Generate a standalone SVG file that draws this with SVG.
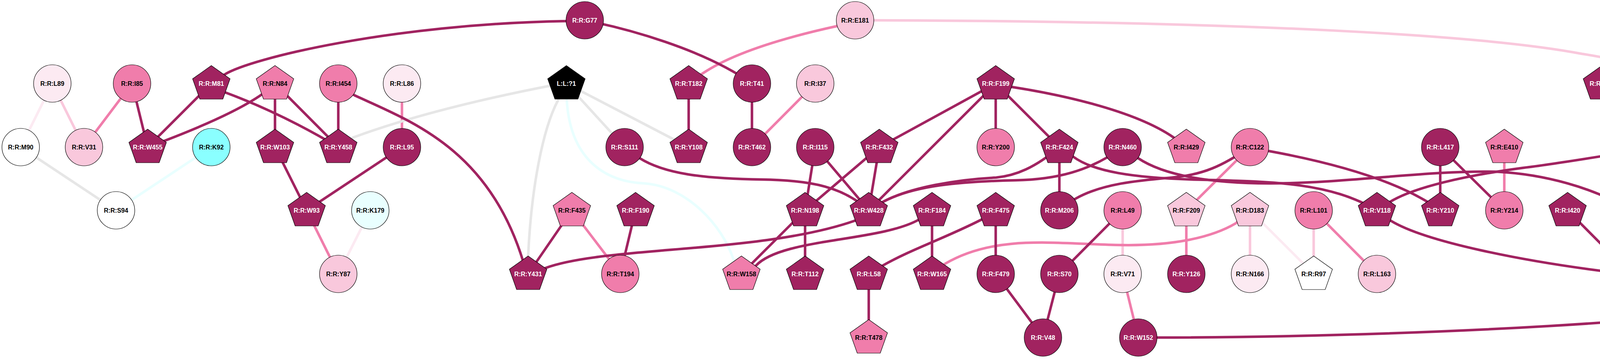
<svg xmlns="http://www.w3.org/2000/svg" width="4853" height="920" viewBox="0 0 4853 920">
<style>
.d{fill:#A12360}.m{fill:#F07DAB}.l{fill:#F9C8DC}.v{fill:#FCEAF2}.w{fill:#FFFFFF}.c{fill:#8AFFFF}.lc{fill:#E9FFFF}.k{fill:#000000}
ellipse,use{stroke:#000;stroke-width:1.2}
text{font-family:"Liberation Sans",Arial,sans-serif;font-weight:bold;font-size:16px;text-anchor:middle}
.tw{fill:#FFFFFF}.tb{fill:#000000}
#edges path,#edges line{fill:none;stroke-width:6.5}
.ed{stroke:#A12360}.em{stroke:#F07DAB}.el{stroke:#F9C8DC}.ev{stroke:#FCEAF2}.eg{stroke:#E6E6E6}.ec{stroke:#E9FFFF}
</style>
<defs>
<polygon id="pent" points="0,-46 48,-12 29.5,40 -29.5,40 -48,-12"/>
</defs>
<rect width="4853" height="920" fill="#FFFFFF"/>
<g id="edges">
<line class="ev" x1="134" y1="214" x2="53" y2="377"/>
<line class="el" x1="134" y1="214" x2="215" y2="377"/>
<line class="em" x1="338" y1="214" x2="215" y2="377"/>
<line class="eg" x1="53" y1="377" x2="297" y2="539"/>
<line class="ec" x1="541" y1="377" x2="297" y2="539"/>
<line class="em" x1="785" y1="539" x2="866" y2="702"/>
<line class="ev" x1="948" y1="539" x2="866" y2="702"/>
<line class="em" x1="1029" y1="214" x2="1029" y2="377"/>
<line class="em" x1="1464" y1="539" x2="1588" y2="702"/>
<line class="em" x1="2087" y1="214" x2="1925" y2="377"/>
<line class="em" x1="3200" y1="377" x2="3037" y2="539"/>
<line class="em" x1="2874" y1="702" x2="2914" y2="865"/>
<line class="em" x1="3037" y1="539" x2="3037" y2="702"/>
<line class="em" x1="3363" y1="539" x2="3525" y2="702"/>
<line class="em" x1="3851" y1="377" x2="3851" y2="539"/>
<line class="el" x1="2874" y1="539" x2="2874" y2="702"/>
<line class="el" x1="3200" y1="539" x2="3200" y2="702"/>
<line class="el" x1="3363" y1="539" x2="3363" y2="702"/>
<line class="ev" x1="3200" y1="539" x2="3363" y2="702"/>
<path class="el" d="M2237,52 C3200,55 3800,90 4050,138 C4150,153 4200,170 4263,214"/>
<path class="em" d="M1763,214 L1799,188 Q1900,120 2142,67 L2189,52"/>
<path class="em" d="M2386,702 L2421,675 C2550,600 2700,625 2871,628 C3000,630 3100,610 3164,572 L3200,539"/>
<line class="eg" x1="1450" y1="214" x2="1599" y2="377"/>
<line class="eg" x1="1450" y1="214" x2="1763" y2="377"/>
<path class="eg" d="M1450,214 L1407,220 Q1100,280 905,352 L866,377"/>
<path class="eg" d="M1450,214 L1428,258 C1390,330 1360,480 1352,657 L1352,702"/>
<path class="ec" d="M1450,214 L1451,258 C1460,400 1540,465 1650,470 C1760,478 1850,580 1877,663 L1898,702"/>
<line class="ed" x1="338" y1="214" x2="378" y2="377"/>
<line class="ed" x1="541" y1="214" x2="378" y2="377"/>
<line class="ed" x1="704" y1="214" x2="866" y2="377"/>
<line class="ed" x1="704" y1="214" x2="704" y2="377"/>
<path class="ed" d="M541,214 L577,237 Q720,290 866,377"/>
<line class="ed" x1="704" y1="377" x2="785" y2="539"/>
<line class="ed" x1="1029" y1="377" x2="785" y2="539"/>
<line class="ed" x1="866" y1="214" x2="866" y2="377"/>
<line class="ed" x1="1464" y1="539" x2="1352" y2="702"/>
<line class="ed" x1="1627" y1="539" x2="1588" y2="702"/>
<line class="ed" x1="1763" y1="214" x2="1763" y2="377"/>
<line class="ed" x1="1925" y1="214" x2="1925" y2="377"/>
<line class="ed" x1="2087" y1="377" x2="2061" y2="539"/>
<line class="ed" x1="2087" y1="377" x2="2224" y2="539"/>
<line class="ed" x1="2251" y1="377" x2="2061" y2="539"/>
<line class="ed" x1="2251" y1="377" x2="2224" y2="539"/>
<line class="ed" x1="2251" y1="377" x2="2549" y2="214"/>
<line class="ed" x1="2549" y1="214" x2="2224" y2="539"/>
<line class="ed" x1="2549" y1="214" x2="2549" y2="377"/>
<line class="ed" x1="2549" y1="214" x2="2712" y2="377"/>
<line class="ed" x1="2061" y1="539" x2="1898" y2="702"/>
<line class="ed" x1="2061" y1="539" x2="2061" y2="702"/>
<line class="ed" x1="2386" y1="539" x2="2386" y2="702"/>
<line class="ed" x1="2224" y1="702" x2="2224" y2="865"/>
<line class="ed" x1="2712" y1="377" x2="2712" y2="539"/>
<line class="ed" x1="2549" y1="539" x2="2549" y2="702"/>
<line class="ed" x1="2549" y1="702" x2="2670" y2="865"/>
<line class="ed" x1="2712" y1="702" x2="2670" y2="865"/>
<line class="ed" x1="2874" y1="539" x2="2712" y2="702"/>
<line class="ed" x1="3687" y1="377" x2="3687" y2="539"/>
<line class="ed" x1="3687" y1="377" x2="3851" y2="539"/>
<line class="ed" x1="4013" y1="539" x2="4175" y2="702"/>
<line class="ed" x1="4101" y1="214" x2="4250" y2="377"/>
<line class="ed" x1="4101" y1="214" x2="4175" y2="539"/>
<line class="ed" x1="4425" y1="214" x2="4418" y2="377"/>
<line class="ed" x1="4250" y1="377" x2="4175" y2="539"/>
<line class="ed" x1="4175" y1="539" x2="4175" y2="702"/>
<line class="ed" x1="4472" y1="539" x2="4175" y2="702"/>
<line class="ed" x1="4472" y1="539" x2="4472" y2="702"/>
<line class="ed" x1="4635" y1="539" x2="4472" y2="702"/>
<line class="ed" x1="4635" y1="539" x2="4635" y2="702"/>
<line class="ed" x1="4797" y1="539" x2="4797" y2="702"/>
<path class="ed" d="M704,214 Q641,280 378,377"/>
<path class="ed" d="M541,214 L575,191 C640,150 1000,62 1450,54 L1497,52"/>
<path class="ed" d="M1497,52 C1600,72 1800,125 1925,214"/>
<path class="ed" d="M866,214 L907,244 C1050,310 1250,380 1339,669 L1352,702"/>
<path class="ed" d="M1352,702 L1396,687 C1550,630 1950,650 2190,565 L2224,539"/>
<path class="ed" d="M1599,377 L1637,405 C1700,445 1800,458 1950,460 C2080,462 2160,480 2224,539"/>
<path class="ed" d="M2386,539 L2352,563 C2250,620 2000,610 1935,681 L1898,702"/>
<path class="ed" d="M2224,702 L2259,681 C2330,640 2420,610 2512,563 L2549,539"/>
<path class="ed" d="M2224,539 L2261,517 C2330,480 2450,460 2550,455 C2600,450 2650,430 2712,377"/>
<path class="ed" d="M2224,539 L2261,517 C2340,475 2460,465 2600,462 C2700,460 2790,440 2874,377"/>
<path class="ed" d="M2712,377 L2748,402 C2800,440 2900,455 3050,460 C3250,465 3400,465 3525,539"/>
<path class="ed" d="M2874,377 L2913,405 C2980,450 3100,470 3250,470 C3450,470 3650,436 3830,440 C3950,446 4080,480 4175,539"/>
<path class="ed" d="M3525,539 L3559,517 C3620,480 3750,450 3900,430 C4000,418 4120,396 4250,377"/>
<path class="ed" d="M2712,539 L2752,510 C2820,470 2920,462 3000,455 C3080,448 3130,425 3200,377"/>
<path class="ed" d="M3200,377 L3248,387 C3400,415 3580,460 3687,539"/>
<path class="ed" d="M2549,214 L2591,223 C2700,240 2900,280 3004,352 L3037,377"/>
<path class="ed" d="M2914,865 L2962,865 C3500,865 4500,830 4760,734 L4797,702"/>
<path class="ed" d="M3525,539 L3561,566 C3650,620 3900,670 4130,698 L4175,702"/>
<path class="ed" d="M4101,214 L4138,238 Q4273,300 4379,352 L4418,377"/>
<path class="ed" d="M4250,377 L4258,417 C4285,500 4275,600 4203,672 L4175,702"/>
<path class="ed" d="M4250,377 L4287,402 C4380,450 4500,455 4600,462 C4680,468 4730,485 4797,539"/>
</g>
<g id="n-L89"><ellipse cx="134" cy="214" rx="48" ry="48" class="v"/><text x="134" y="220" class="tb">R:R:L89</text></g>
<g id="n-I85"><ellipse cx="338" cy="214" rx="48" ry="48" class="m"/><text x="338" y="220" class="tb">R:R:I85</text></g>
<g id="n-M81"><use href="#pent" x="541" y="214" class="d"/><text x="541" y="220" class="tw">R:R:M81</text></g>
<g id="n-N84"><use href="#pent" x="704" y="214" class="m"/><text x="704" y="220" class="tb">R:R:N84</text></g>
<g id="n-M90"><ellipse cx="53" cy="377" rx="48" ry="48" class="w"/><text x="53" y="383" class="tb">R:R:M90</text></g>
<g id="n-V31"><ellipse cx="215" cy="377" rx="48" ry="48" class="l"/><text x="215" y="383" class="tb">R:R:V31</text></g>
<g id="n-W455"><use href="#pent" x="378" y="377" class="d"/><text x="378" y="383" class="tw">R:R:W455</text></g>
<g id="n-K92"><ellipse cx="541" cy="377" rx="48" ry="48" class="c"/><text x="541" y="383" class="tb">R:R:K92</text></g>
<g id="n-W103"><use href="#pent" x="704" y="377" class="d"/><text x="704" y="383" class="tw">R:R:W103</text></g>
<g id="n-S94"><ellipse cx="297" cy="539" rx="48" ry="48" class="w"/><text x="297" y="545" class="tb">R:R:S94</text></g>
<g id="n-W93"><use href="#pent" x="785" y="539" class="d"/><text x="785" y="545" class="tw">R:R:W93</text></g>
<g id="n-G77"><ellipse cx="1497" cy="52" rx="48" ry="48" class="d"/><text x="1497" y="58" class="tw">R:R:G77</text></g>
<g id="n-I454"><ellipse cx="866" cy="214" rx="48" ry="48" class="m"/><text x="866" y="220" class="tb">R:R:I454</text></g>
<g id="n-L86"><ellipse cx="1029" cy="214" rx="48" ry="48" class="v"/><text x="1029" y="220" class="tb">R:R:L86</text></g>
<g id="n-L1"><use href="#pent" x="1450" y="214" class="k"/><text x="1450" y="220" class="tw">L:L:?1</text></g>
<g id="n-Y458"><use href="#pent" x="866" y="377" class="d"/><text x="866" y="383" class="tw">R:R:Y458</text></g>
<g id="n-L95"><ellipse cx="1029" cy="377" rx="48" ry="48" class="d"/><text x="1029" y="383" class="tw">R:R:L95</text></g>
<g id="n-S111"><ellipse cx="1599" cy="377" rx="48" ry="48" class="d"/><text x="1599" y="383" class="tw">R:R:S111</text></g>
<g id="n-K179"><ellipse cx="948" cy="539" rx="48" ry="48" class="lc"/><text x="948" y="545" class="tb">R:R:K179</text></g>
<g id="n-F435"><use href="#pent" x="1464" y="539" class="m"/><text x="1464" y="545" class="tb">R:R:F435</text></g>
<g id="n-F190"><use href="#pent" x="1627" y="539" class="d"/><text x="1627" y="545" class="tw">R:R:F190</text></g>
<g id="n-Y87"><ellipse cx="866" cy="702" rx="48" ry="48" class="l"/><text x="866" y="708" class="tb">R:R:Y87</text></g>
<g id="n-Y431"><use href="#pent" x="1352" y="702" class="d"/><text x="1352" y="708" class="tw">R:R:Y431</text></g>
<g id="n-T194"><ellipse cx="1588" cy="702" rx="48" ry="48" class="m"/><text x="1588" y="708" class="tb">R:R:T194</text></g>
<g id="n-E181"><ellipse cx="2189" cy="52" rx="48" ry="48" class="l"/><text x="2189" y="58" class="tb">R:R:E181</text></g>
<g id="n-T182"><use href="#pent" x="1763" y="214" class="d"/><text x="1763" y="220" class="tw">R:R:T182</text></g>
<g id="n-T41"><ellipse cx="1925" cy="214" rx="48" ry="48" class="d"/><text x="1925" y="220" class="tw">R:R:T41</text></g>
<g id="n-I37"><ellipse cx="2087" cy="214" rx="48" ry="48" class="l"/><text x="2087" y="220" class="tb">R:R:I37</text></g>
<g id="n-Y108"><use href="#pent" x="1763" y="377" class="d"/><text x="1763" y="383" class="tw">R:R:Y108</text></g>
<g id="n-T462"><ellipse cx="1925" cy="377" rx="48" ry="48" class="d"/><text x="1925" y="383" class="tw">R:R:T462</text></g>
<g id="n-I115"><ellipse cx="2087" cy="377" rx="48" ry="48" class="d"/><text x="2087" y="383" class="tw">R:R:I115</text></g>
<g id="n-F432"><use href="#pent" x="2251" y="377" class="d"/><text x="2251" y="383" class="tw">R:R:F432</text></g>
<g id="n-N198"><use href="#pent" x="2061" y="539" class="d"/><text x="2061" y="545" class="tw">R:R:N198</text></g>
<g id="n-W428"><use href="#pent" x="2224" y="539" class="d"/><text x="2224" y="545" class="tw">R:R:W428</text></g>
<g id="n-F184"><use href="#pent" x="2386" y="539" class="d"/><text x="2386" y="545" class="tw">R:R:F184</text></g>
<g id="n-W158"><use href="#pent" x="1898" y="702" class="m"/><text x="1898" y="708" class="tb">R:R:W158</text></g>
<g id="n-T112"><use href="#pent" x="2061" y="702" class="d"/><text x="2061" y="708" class="tw">R:R:T112</text></g>
<g id="n-L58"><use href="#pent" x="2224" y="702" class="d"/><text x="2224" y="708" class="tw">R:R:L58</text></g>
<g id="n-W165"><use href="#pent" x="2386" y="702" class="d"/><text x="2386" y="708" class="tw">R:R:W165</text></g>
<g id="n-T478"><use href="#pent" x="2224" y="865" class="m"/><text x="2224" y="871" class="tb">R:R:T478</text></g>
<g id="n-F199"><use href="#pent" x="2549" y="214" class="d"/><text x="2549" y="220" class="tw">R:R:F199</text></g>
<g id="n-Y200"><ellipse cx="2549" cy="377" rx="48" ry="48" class="m"/><text x="2549" y="383" class="tb">R:R:Y200</text></g>
<g id="n-F424"><use href="#pent" x="2712" y="377" class="d"/><text x="2712" y="383" class="tw">R:R:F424</text></g>
<g id="n-N460"><ellipse cx="2874" cy="377" rx="48" ry="48" class="d"/><text x="2874" y="383" class="tw">R:R:N460</text></g>
<g id="n-I429"><use href="#pent" x="3037" y="377" class="m"/><text x="3037" y="383" class="tb">R:R:I429</text></g>
<g id="n-C122"><ellipse cx="3200" cy="377" rx="48" ry="48" class="m"/><text x="3200" y="383" class="tb">R:R:C122</text></g>
<g id="n-F475"><use href="#pent" x="2549" y="539" class="d"/><text x="2549" y="545" class="tw">R:R:F475</text></g>
<g id="n-M206"><ellipse cx="2712" cy="539" rx="48" ry="48" class="d"/><text x="2712" y="545" class="tw">R:R:M206</text></g>
<g id="n-L49"><ellipse cx="2874" cy="539" rx="48" ry="48" class="m"/><text x="2874" y="545" class="tb">R:R:L49</text></g>
<g id="n-F209"><use href="#pent" x="3037" y="539" class="l"/><text x="3037" y="545" class="tb">R:R:F209</text></g>
<g id="n-D183"><use href="#pent" x="3200" y="539" class="l"/><text x="3200" y="545" class="tb">R:R:D183</text></g>
<g id="n-F479"><ellipse cx="2549" cy="702" rx="48" ry="48" class="d"/><text x="2549" y="708" class="tw">R:R:F479</text></g>
<g id="n-S70"><ellipse cx="2712" cy="702" rx="48" ry="48" class="d"/><text x="2712" y="708" class="tw">R:R:S70</text></g>
<g id="n-V71"><ellipse cx="2874" cy="702" rx="48" ry="48" class="v"/><text x="2874" y="708" class="tb">R:R:V71</text></g>
<g id="n-Y126"><ellipse cx="3037" cy="702" rx="48" ry="48" class="d"/><text x="3037" y="708" class="tw">R:R:Y126</text></g>
<g id="n-N166"><ellipse cx="3200" cy="702" rx="48" ry="48" class="v"/><text x="3200" y="708" class="tb">R:R:N166</text></g>
<g id="n-V48"><ellipse cx="2670" cy="865" rx="48" ry="48" class="d"/><text x="2670" y="871" class="tw">R:R:V48</text></g>
<g id="n-W152"><ellipse cx="2914" cy="865" rx="48" ry="48" class="d"/><text x="2914" y="871" class="tw">R:R:W152</text></g>
<g id="n-L417"><ellipse cx="3687" cy="377" rx="48" ry="48" class="d"/><text x="3687" y="383" class="tw">R:R:L417</text></g>
<g id="n-E410"><use href="#pent" x="3851" y="377" class="m"/><text x="3851" y="383" class="tb">R:R:E410</text></g>
<g id="n-L101"><ellipse cx="3363" cy="539" rx="48" ry="48" class="m"/><text x="3363" y="545" class="tb">R:R:L101</text></g>
<g id="n-V118"><use href="#pent" x="3525" y="539" class="d"/><text x="3525" y="545" class="tw">R:R:V118</text></g>
<g id="n-Y210"><use href="#pent" x="3687" y="539" class="d"/><text x="3687" y="545" class="tw">R:R:Y210</text></g>
<g id="n-Y214"><ellipse cx="3851" cy="539" rx="48" ry="48" class="m"/><text x="3851" y="545" class="tb">R:R:Y214</text></g>
<g id="n-I420"><use href="#pent" x="4013" y="539" class="d"/><text x="4013" y="545" class="tw">R:R:I420</text></g>
<g id="n-R97"><use href="#pent" x="3363" y="702" class="w"/><text x="3363" y="708" class="tb">R:R:R97</text></g>
<g id="n-L163"><ellipse cx="3525" cy="702" rx="48" ry="48" class="l"/><text x="3525" y="708" class="tb">R:R:L163</text></g>
<g id="n-D73"><use href="#pent" x="4101" y="214" class="d"/><text x="4101" y="220" class="tw">R:R:D73</text></g>
<g id="n-Y185"><ellipse cx="4263" cy="214" rx="48" ry="48" class="l"/><text x="4263" y="220" class="tb">R:R:Y185</text></g>
<g id="n-L74"><ellipse cx="4425" cy="214" rx="48" ry="48" class="m"/><text x="4425" y="220" class="tb">R:R:L74</text></g>
<g id="n-L69"><use href="#pent" x="4250" y="377" class="d"/><text x="4250" y="383" class="tw">R:R:L69</text></g>
<g id="n-N45"><ellipse cx="4418" cy="377" rx="48" ry="48" class="d"/><text x="4418" y="383" class="tw">R:R:N45</text></g>
<g id="n-N464"><use href="#pent" x="4175" y="539" class="d"/><text x="4175" y="545" class="tw">R:R:N464</text></g>
<g id="n-L121"><ellipse cx="4472" cy="539" rx="48" ry="48" class="d"/><text x="4472" y="545" class="tw">R:R:L121</text></g>
<g id="n-D124"><ellipse cx="4635" cy="539" rx="48" ry="48" class="d"/><text x="4635" y="545" class="tw">R:R:D124</text></g>
<g id="n-S117"><ellipse cx="4797" cy="539" rx="48" ry="48" class="m"/><text x="4797" y="545" class="tb">R:R:S117</text></g>
<g id="n-Y468"><use href="#pent" x="4175" y="702" class="d"/><text x="4175" y="708" class="tw">R:R:Y468</text></g>
<g id="n-Y65"><use href="#pent" x="4472" y="702" class="m"/><text x="4472" y="708" class="tb">R:R:Y65</text></g>
<g id="n-R139"><use href="#pent" x="4635" y="702" class="d"/><text x="4635" y="708" class="tw">R:R:R139</text></g>
<g id="n-S68"><ellipse cx="4797" cy="702" rx="48" ry="48" class="d"/><text x="4797" y="708" class="tw">R:R:S68</text></g>
</svg>
